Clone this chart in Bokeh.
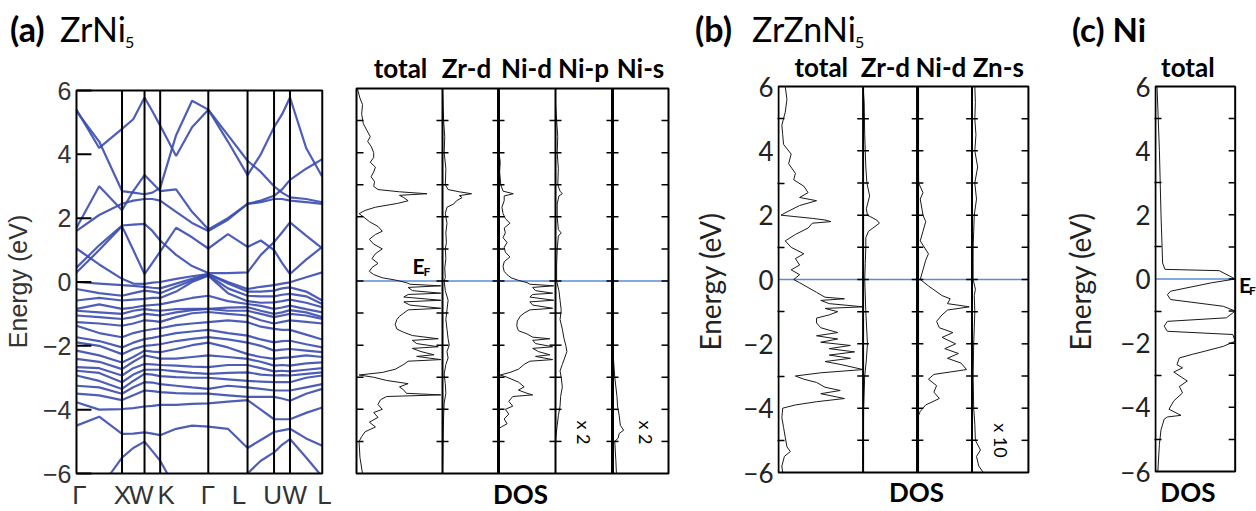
import math
from bokeh.plotting import figure
from bokeh.models import Range1d, FixedTicker, Label, Div
from bokeh.layouts import row, column
from bokeh.embed import file_html
from bokeh.resources import INLINE

# ---------------- (a) ZrNi5 band structure ----------------
k_points = [0.0, 0.457, 0.683, 0.84, 1.323, 1.717, 1.983, 2.143, 2.467]
k_names = ["Γ", "X", "W", "K", "Γ", "L", "U", "W", "L"]
k_grid = [0.0, 0.228, 0.457, 0.57, 0.683, 0.762, 0.84, 1.0, 1.16, 1.323,
          1.52, 1.717, 1.85, 1.983, 2.063, 2.143, 2.305, 2.467]
energy_ticks = [-6, -4, -2, 0, 2, 4, 6]

band_01 = [5.4, 4.2, 4.8, 5.1, 5.78, 5.35, 4.9, 3.95, 4.85, 5.4, 4.4, 3.35, 4.0, 4.85, 5.25, 5.78, 4.2, 3.3]
band_02 = [5.35, 4.4, 2.85, 2.8, 2.75, 2.8, 2.95, 4.6, 5.68, 5.4, 4.6, 3.8, 3.45, 3.0, 2.8, 2.65, 2.6, 2.5]
band_03 = [1.7, 3.0, 2.25, 2.85, 3.35, 3.1, 2.85, 2.9, 2.2, 1.65, 2.0, 2.45, 2.55, 2.7, 2.9, 3.2, 3.55, 3.85]
band_04 = [1.6, 2.1, 2.45, 2.55, 2.6, 2.6, 2.55, 2.2, 1.85, 1.6, 1.95, 2.45, 2.5, 2.6, 2.6, 2.55, 2.5, 2.45]
band_05 = [0.45, 1.15, 1.77, 1.8, 1.82, 1.6, 1.3, 0.85, 0.5, 0.28, 0.28, 0.3, 0.85, 1.25, 1.55, 1.87, 1.45, 1.05]
band_06 = [0.3, 1.0, 1.75, 1.0, 0.25, 0.6, 0.95, 1.7, 1.4, 1.05, 1.5, 1.1, 1.3, 1.0, 0.6, 0.25, 0.7, 1.1]
band_07 = [1.05, 0.55, 0.1, -0.05, -0.06, -0.02, 0.0, 0.1, 0.18, 0.25, 0.0, -0.22, -0.15, -0.1, -0.05, -0.01, 0.15, 0.3]
band_08 = [0.0, -0.05, -0.1, -0.12, -0.15, -0.18, -0.2, -0.05, 0.1, 0.25, -0.05, -0.3, -0.3, -0.27, -0.2, -0.17, -0.3, -0.58]
band_09 = [-0.22, -0.35, -0.43, -0.35, -0.27, -0.3, -0.35, -0.15, 0.05, 0.22, -0.2, -0.43, -0.45, -0.45, -0.4, -0.37, -0.45, -0.69]
band_10 = [-0.58, -0.5, -0.58, -0.55, -0.53, -0.5, -0.5, -0.3, 0.0, 0.2, -0.35, -0.6, -0.65, -0.64, -0.6, -0.55, -0.65, -0.79]
band_11 = [-0.84, -0.7, -0.84, -0.8, -0.74, -0.72, -0.7, -0.6, -0.5, -0.43, -0.6, -0.69, -0.75, -0.84, -0.8, -0.74, -0.85, -0.95]
band_12 = [-0.9, -0.95, -1.0, -0.9, -0.85, -0.88, -0.9, -0.85, -0.84, -0.84, -0.8, -0.79, -0.9, -1.0, -0.95, -0.88, -0.95, -1.1]
band_13 = [-1.05, -1.1, -1.16, -1.1, -1.0, -1.02, -1.05, -0.95, -0.88, -0.84, -0.9, -0.9, -1.0, -1.1, -1.05, -1.0, -1.05, -1.16]
band_14 = [-1.26, -1.3, -1.37, -1.3, -1.2, -1.22, -1.25, -1.1, -0.98, -0.94, -1.0, -1.05, -1.2, -1.3, -1.25, -1.2, -1.25, -1.3]
band_15 = [-1.37, -1.6, -1.73, -1.6, -1.52, -1.48, -1.45, -1.35, -1.3, -1.26, -1.2, -1.26, -1.4, -1.47, -1.5, -1.5, -1.65, -1.8]
band_16 = [-1.73, -1.85, -2.05, -1.9, -1.79, -1.75, -1.7, -1.6, -1.55, -1.5, -1.6, -1.68, -1.8, -1.89, -1.85, -1.84, -1.95, -2.05]
band_17 = [-1.89, -2.0, -2.26, -2.1, -2.0, -1.98, -1.95, -1.85, -1.78, -1.73, -1.8, -1.9, -2.0, -2.15, -2.12, -2.1, -2.15, -2.2]
band_18 = [-2.15, -2.3, -2.52, -2.35, -2.15, -2.18, -2.2, -2.1, -1.98, -1.9, -2.05, -2.26, -2.35, -2.41, -2.38, -2.36, -2.3, -2.35]
band_19 = [-2.41, -2.5, -2.73, -2.5, -2.3, -2.35, -2.4, -2.4, -2.35, -2.3, -2.35, -2.41, -2.5, -2.62, -2.6, -2.62, -2.55, -2.52]
band_20 = [-2.67, -2.7, -2.93, -2.7, -2.57, -2.58, -2.6, -2.62, -2.65, -2.67, -2.6, -2.6, -2.7, -2.8, -2.78, -2.8, -2.75, -2.7]
band_21 = [-2.78, -2.85, -3.14, -2.9, -2.75, -2.75, -2.75, -2.8, -2.85, -2.88, -2.85, -2.83, -2.9, -2.93, -2.92, -2.93, -2.88, -2.83]
band_22 = [-2.93, -3.1, -3.35, -3.1, -2.88, -2.9, -2.95, -2.98, -3.0, -3.0, -3.05, -3.1, -3.12, -3.14, -3.14, -3.14, -3.0, -2.93]
band_23 = [-3.25, -3.3, -3.5, -3.3, -3.14, -3.15, -3.2, -3.25, -3.3, -3.35, -3.25, -3.3, -3.35, -3.4, -3.4, -3.4, -3.3, -3.2]
band_24 = [-3.5, -3.55, -3.7, -3.55, -3.4, -3.42, -3.45, -3.48, -3.5, -3.5, -3.55, -3.6, -3.6, -3.6, -3.65, -3.72, -3.5, -3.35]
band_25 = [-3.77, -4.0, -3.98, -3.95, -3.9, -3.88, -3.85, -3.85, -3.82, -3.8, -3.75, -3.7, -4.0, -4.3, -4.3, -4.3, -4.1, -3.93]
band_26 = [-4.5, -4.22, -4.76, -4.75, -4.71, -4.75, -4.8, -4.6, -4.5, -4.53, -4.6, -5.2, -4.95, -4.7, -4.65, -4.6, -4.9, -5.13]
band_27 = [-7.5, -6.5, -5.5, -5.2, -5.0, -5.3, -5.6, -6.5, -7.5, -8.0, -7.0, -6.0, -5.6, -5.34, -5.1, -4.92, -5.5, -6.1]

# ---------------- (a) ZrNi5 DOS : (energy, DOS) pairs ----------------
a_total = [(6.0, 0.01), (5.7, 0.04), (5.5, 0.07), (5.2, 0.06), (4.9, 0.08), (4.7, 0.12), (4.5, 0.16),
           (4.35, 0.13), (4.2, 0.17), (4.0, 0.2), (3.85, 0.2), (3.7, 0.16), (3.55, 0.22), (3.4, 0.2),
           (3.25, 0.17), (3.1, 0.21), (2.95, 0.2), (2.85, 0.25), (2.78, 0.5), (2.72, 0.82), (2.67, 0.5),
           (2.6, 0.55), (2.5, 0.6), (2.42, 0.48), (2.3, 0.22), (2.2, 0.1), (2.1, 0.03), (2.0, 0.08),
           (1.85, 0.15), (1.7, 0.25), (1.55, 0.3), (1.45, 0.22), (1.3, 0.15), (1.15, 0.2), (1.0, 0.3),
           (0.85, 0.22), (0.7, 0.18), (0.55, 0.25), (0.42, 0.18), (0.3, 0.15), (0.2, 0.2), (0.1, 0.3),
           (0.03, 0.45), (-0.05, 0.58), (-0.1, 0.62), (-0.15, 0.98), (-0.2, 0.6), (-0.3, 0.65),
           (-0.38, 0.98), (-0.42, 0.6), (-0.5, 0.55), (-0.6, 0.98), (-0.65, 0.55), (-0.75, 0.62),
           (-0.85, 0.98), (-0.9, 0.6), (-1.0, 0.55), (-1.1, 0.5), (-1.2, 0.47), (-1.35, 0.45),
           (-1.5, 0.47), (-1.6, 0.55), (-1.7, 0.65), (-1.8, 0.95), (-1.85, 0.65), (-1.95, 0.7),
           (-2.05, 0.95), (-2.1, 0.65), (-2.2, 0.75), (-2.3, 0.9), (-2.35, 0.7), (-2.45, 0.98),
           (-2.5, 0.6), (-2.6, 0.55), (-2.75, 0.45), (-2.85, 0.3), (-2.93, 0.03), (-3.0, 0.2),
           (-3.1, 0.35), (-3.2, 0.6), (-3.3, 0.5), (-3.4, 0.55), (-3.5, 0.58), (-3.55, 0.98),
           (-3.6, 0.35), (-3.7, 0.28), (-3.85, 0.25), (-4.0, 0.3), (-4.1, 0.2), (-4.25, 0.25),
           (-4.4, 0.15), (-4.55, 0.22), (-4.7, 0.1), (-4.85, 0.06), (-5.0, 0.03), (-5.5, 0.04), (-6.0, 0.07)]
a_zr_d = [(6.0, 0.0), (5.0, 0.02), (4.5, 0.04), (4.0, 0.03), (3.5, 0.06), (3.0, 0.05), (2.85, 0.1),
          (2.78, 0.3), (2.72, 0.52), (2.66, 0.3), (2.6, 0.35), (2.5, 0.25), (2.4, 0.2), (2.3, 0.08),
          (2.1, 0.05), (1.8, 0.08), (1.5, 0.06), (1.2, 0.07), (1.0, 0.05), (0.7, 0.06), (0.4, 0.04),
          (0.1, 0.05), (0.0, 0.03), (-0.3, 0.05), (-0.6, 0.1), (-0.9, 0.08), (-1.2, 0.06), (-1.5, 0.08),
          (-1.8, 0.1), (-2.0, 0.12), (-2.2, 0.08), (-2.4, 0.1), (-2.6, 0.06), (-2.9, 0.03), (-3.2, 0.05),
          (-3.5, 0.06), (-3.8, 0.03), (-4.2, 0.02), (-5.0, 0.01), (-6.0, 0.0)]
a_ni_d = [(6.0, 0.0), (4.6, 0.0), (4.3, 0.02), (4.0, 0.01), (3.7, 0.03), (3.4, 0.02), (3.0, 0.04),
          (2.8, 0.08), (2.72, 0.26), (2.65, 0.1), (2.5, 0.1), (2.3, 0.06), (2.1, 0.08), (1.95, 0.12),
          (1.8, 0.2), (1.65, 0.1), (1.5, 0.12), (1.35, 0.08), (1.2, 0.15), (1.05, 0.1), (0.9, 0.12),
          (0.75, 0.2), (0.6, 0.1), (0.45, 0.08), (0.3, 0.1), (0.2, 0.15), (0.1, 0.22), (0.02, 0.35),
          (-0.05, 0.5), (-0.1, 0.55), (-0.15, 0.97), (-0.2, 0.6), (-0.3, 0.65), (-0.38, 0.95),
          (-0.42, 0.6), (-0.5, 0.55), (-0.6, 0.97), (-0.65, 0.55), (-0.75, 0.6), (-0.85, 0.95),
          (-0.9, 0.55), (-1.0, 0.45), (-1.1, 0.38), (-1.25, 0.33), (-1.4, 0.32), (-1.55, 0.35),
          (-1.65, 0.5), (-1.75, 0.6), (-1.8, 0.9), (-1.85, 0.6), (-1.95, 0.65), (-2.05, 0.95),
          (-2.1, 0.6), (-2.2, 0.7), (-2.3, 0.9), (-2.35, 0.65), (-2.45, 0.95), (-2.5, 0.55),
          (-2.6, 0.45), (-2.75, 0.35), (-2.85, 0.2), (-2.93, 0.03), (-3.0, 0.15), (-3.15, 0.35),
          (-3.3, 0.45), (-3.4, 0.35), (-3.5, 0.5), (-3.55, 0.6), (-3.6, 0.25), (-3.75, 0.18),
          (-3.9, 0.25), (-4.0, 0.12), (-4.15, 0.18), (-4.3, 0.1), (-4.45, 0.15), (-4.55, 0.05),
          (-4.6, 0.0), (-6.0, 0.0)]
a_ni_p = [(5.5, 0.0), (5.0, 0.02), (4.5, 0.04), (4.0, 0.03), (3.5, 0.05), (3.0, 0.04), (2.8, 0.08),
          (2.72, 0.12), (2.65, 0.06), (2.4, 0.03), (2.0, 0.03), (1.6, 0.05), (1.5, 0.1), (1.4, 0.05),
          (1.0, 0.03), (0.5, 0.02), (0.0, 0.02), (-0.3, 0.06), (-0.6, 0.08), (-0.9, 0.1), (-1.2, 0.08),
          (-1.5, 0.12), (-1.8, 0.15), (-2.0, 0.18), (-2.2, 0.2), (-2.4, 0.16), (-2.6, 0.12),
          (-2.8, 0.08), (-3.0, 0.1), (-3.3, 0.12), (-3.6, 0.09), (-3.9, 0.08), (-4.2, 0.05),
          (-4.5, 0.03), (-4.8, 0.01), (-5.0, 0.0)]
a_ni_s = [(-1.5, 0.0), (-2.0, 0.01), (-2.5, 0.02), (-3.0, 0.04), (-3.3, 0.06), (-3.6, 0.08),
          (-3.9, 0.09), (-4.2, 0.12), (-4.5, 0.14), (-4.65, 0.2), (-4.75, 0.12), (-4.9, 0.1),
          (-5.0, 0.04), (-5.3, 0.05), (-5.6, 0.06), (-6.0, 0.07)]

# ---------------- (b) ZrZnNi5 DOS ----------------
b_total = [(6.0, 0.08), (5.6, 0.1), (5.2, 0.08), (4.8, 0.04), (4.5, 0.05), (4.2, 0.06), (3.9, 0.15),
           (3.6, 0.12), (3.3, 0.2), (3.1, 0.18), (2.9, 0.3), (2.7, 0.35), (2.55, 0.25), (2.45, 0.45),
           (2.3, 0.25), (2.1, 0.1), (2.0, 0.03), (1.9, 0.4), (1.85, 0.55), (1.8, 0.62), (1.75, 0.4),
           (1.6, 0.35), (1.4, 0.2), (1.2, 0.08), (1.0, 0.15), (0.8, 0.3), (0.65, 0.2), (0.45, 0.25),
           (0.3, 0.15), (0.15, 0.25), (0.0, 0.18), (-0.1, 0.25), (-0.25, 0.35), (-0.4, 0.45),
           (-0.55, 0.55), (-0.6, 0.78), (-0.65, 0.5), (-0.75, 0.6), (-0.85, 1.0), (-0.9, 0.55),
           (-1.0, 0.7), (-1.1, 0.6), (-1.2, 0.45), (-1.35, 0.45), (-1.5, 0.5), (-1.65, 0.7),
           (-1.75, 0.45), (-1.85, 0.7), (-1.95, 0.5), (-2.05, 0.85), (-2.15, 0.6), (-2.25, 0.9),
           (-2.35, 0.6), (-2.45, 0.85), (-2.55, 0.55), (-2.65, 0.75), (-2.8, 1.0), (-2.9, 0.5),
           (-3.0, 0.2), (-3.1, 0.3), (-3.2, 0.45), (-3.35, 0.55), (-3.45, 0.73), (-3.55, 0.5),
           (-3.7, 0.78), (-3.8, 0.45), (-3.9, 0.2), (-4.0, 0.05), (-4.3, 0.04), (-4.6, 0.06),
           (-4.9, 0.08), (-5.2, 0.1), (-5.35, 0.14), (-5.5, 0.07), (-5.8, 0.04), (-6.0, 0.05)]
b_zr_d = [(6.0, 0.0), (5.5, 0.02), (4.5, 0.03), (3.5, 0.05), (3.0, 0.07), (2.6, 0.12), (2.2, 0.06),
          (2.0, 0.08), (1.85, 0.25), (1.75, 0.3), (1.6, 0.18), (1.5, 0.1), (1.3, 0.05), (1.0, 0.05),
          (0.5, 0.04), (0.0, 0.03), (-1.0, 0.05), (-2.0, 0.08), (-2.5, 0.06), (-3.0, 0.03),
          (-4.0, 0.01), (-6.0, 0.0)]
b_ni_d = [(6.0, 0.0), (3.0, 0.02), (2.7, 0.1), (2.5, 0.05), (2.0, 0.1), (1.8, 0.15), (1.5, 0.1),
          (1.2, 0.05), (0.8, 0.2), (0.6, 0.15), (0.3, 0.1), (0.0, 0.05), (-0.2, 0.2), (-0.5, 0.45),
          (-0.6, 0.6), (-0.75, 0.55), (-0.85, 0.95), (-0.95, 0.55), (-1.1, 0.45), (-1.3, 0.35),
          (-1.5, 0.4), (-1.65, 0.65), (-1.8, 0.45), (-2.0, 0.7), (-2.15, 0.5), (-2.3, 0.75),
          (-2.45, 0.55), (-2.6, 0.8), (-2.8, 0.9), (-2.95, 0.3), (-3.1, 0.2), (-3.3, 0.35),
          (-3.5, 0.3), (-3.7, 0.4), (-3.9, 0.15), (-4.1, 0.05), (-4.3, 0.0), (-6.0, 0.0)]
b_zn_s = [(6.0, 0.05), (5.5, 0.06), (5.0, 0.05), (4.5, 0.07), (4.0, 0.05), (3.5, 0.1), (3.0, 0.05),
          (2.5, 0.08), (2.0, 0.04), (1.5, 0.03), (1.0, 0.02), (0.5, 0.02), (0.0, 0.02), (-0.3, 0.06),
          (-0.5, 0.04), (-1.0, 0.05), (-1.5, 0.04), (-2.0, 0.03), (-3.0, 0.02), (-4.0, 0.03),
          (-4.5, 0.05), (-5.0, 0.06), (-5.3, 0.15), (-5.5, 0.08), (-5.8, 0.12), (-6.0, 0.2)]

# ---------------- (c) Ni DOS ----------------
c_total = [(6.0, 0.02), (4.0, 0.05), (2.0, 0.07), (0.5, 0.09), (0.3, 0.12), (0.26, 0.8),
           (0.0, 1.0), (-0.12, 0.7), (-0.38, 0.19), (-0.49, 0.15), (-0.64, 0.19), (-0.85, 0.85),
           (-1.0, 1.0), (-1.21, 0.89), (-1.32, 0.15), (-1.47, 0.11), (-1.63, 0.15), (-1.73, 0.97),
           (-1.94, 1.0), (-2.1, 0.85), (-2.25, 0.62), (-2.35, 0.46), (-2.46, 0.3), (-2.67, 0.27),
           (-2.77, 0.34), (-2.9, 0.23), (-3.18, 0.4), (-3.35, 0.3), (-3.55, 0.34), (-3.8, 0.23),
           (-4.06, 0.17), (-4.25, 0.32), (-4.3, 0.15), (-4.37, 0.11), (-4.7, 0.07), (-5.15, 0.05),
           (-6.0, 0.03)]

BLUE = "#3b4cb0"
EF_BLUE = "#5b8bd8"
TOP = 51          # height of the title strip
HB = 511 - TOP    # height of the panel row
dos_ticks = [-5, -4, -3, -2, -1, 0, 1, 2, 3, 4, 5]
# distance from the middle of a text line to its baseline, in em
MID_TO_BASE = {"Lato": 0.387, "Liberation Sans": 0.347}


def yrange_for(box_top, box_bottom):
    # box_top / box_bottom are pixel rows (page coordinates) of E = 6 and E = -6
    ppe = (box_bottom - box_top) / 12.0
    return Range1d(-6 - (511 - box_bottom) / ppe, 6 + (box_top - TOP) / ppe)


def ymap(box_top, box_bottom):
    ppe = (box_bottom - box_top) / 12.0
    return lambda py: 6 - (py - box_top) / ppe


def label(p, fy, x, py, text, size, bold=False, align="left", font="Lato",
          angle=0.0, color="black", on_baseline=True):
    # py: page row of the text baseline (or of its middle for on_baseline=False)
    if on_baseline:
        py = py - MID_TO_BASE[font] * size
    p.add_layout(Label(x=x, y=fy(py), text=text, text_font=font,
                       text_font_size=f"{size}px",
                       text_font_style="bold" if bold else "normal",
                       text_align=align, text_baseline="middle", angle=angle,
                       text_color=color))


def base_fig(width, xr, yr, bl=0, yloc=None):
    p = figure(width=width, height=HB, x_range=xr, y_range=yr,
               min_border_left=bl, min_border_right=0, min_border_top=0, min_border_bottom=0,
               toolbar_location=None, output_backend="svg",
               x_axis_location=None, y_axis_location=yloc)
    p.xgrid.visible = False
    p.ygrid.visible = False
    p.outline_line_color = None
    p.background_fill_color = "white"
    p.border_fill_color = "white"
    return p


def box(p, width):
    p.quad(left=[0], right=[width], bottom=[-6], top=[6], fill_color=None,
           line_color="black", line_width=2)


def dos_curve(p, pairs, left, width):
    es = [e for e, v in pairs]
    xs = [left + v * width for e, v in pairs]
    p.line(xs, es, line_color="#1a1a1a", line_width=1)


def ef_line(p, width):
    p.line([0, width], [0, 0], line_color=EF_BLUE, line_width=1.5)


def cross_ticks(p, edges, outer_left=True, outer_right=True, half=6, inner=7):
    x0s, x1s, ys = [], [], []
    last = len(edges) - 1
    for i, e in enumerate(edges):
        for t in dos_ticks:
            if i == 0:
                if not outer_left:
                    continue
                a, b = e, e + inner
            elif i == last:
                if not outer_right:
                    continue
                a, b = e - inner, e
            else:
                a, b = e - half, e + half
            x0s.append(a); x1s.append(b); ys.append(t)
    p.segment(x0=x0s, y0=ys, x1=x1s, y1=ys, line_color="black", line_width=1.5)


def style_dos_yaxis(ax, standoff):
    ax.ticker = FixedTicker(ticks=energy_ticks, minor_ticks=[-5, -3, -1, 1, 3, 5])
    ax.major_tick_in = 0
    ax.major_tick_out = 0
    ax.minor_tick_in = 7
    ax.minor_tick_out = 0
    ax.minor_tick_line_color = "black"
    ax.minor_tick_line_width = 1.5
    ax.axis_line_color = None
    ax.major_label_standoff = 4
    ax.major_label_text_font = "Lato"
    ax.major_label_text_font_size = "26px"
    ax.major_label_text_color = "#222222"
    ax.axis_label = "Energy (eV)"
    ax.axis_label_standoff = standoff
    ax.axis_label_text_font = "Lato"
    ax.axis_label_text_font_size = "28px"
    ax.axis_label_text_font_style = "normal"
    ax.axis_label_text_color = "#222222"


# ===== title strip (HTML text) =====
def span(left, baseline, size, text, bold=False):
    top = baseline - 0.887 * size      # Lato: baseline sits 0.887 em below the line top
    w = "700" if bold else "400"
    return (f'<span style="position:absolute;left:{left}px;top:{top:.1f}px;font-size:{size}px;'
            f'line-height:{size}px;font-weight:{w};white-space:nowrap;">{text}</span>')


head_html = (f'<div style="position:relative;width:1256px;height:{TOP}px;font-family:Lato;color:#000;">'
             + span(10, 42, 34, "(a)", True) + span(60, 42, 34, "ZrNi") + span(125, 48, 16, "5")
             + span(695, 42, 34, "(b)", True) + span(752, 42, 34, "ZrZnNi") + span(855, 48, 16, "5")
             + span(1072, 42, 33, "(c) Ni", True)
             + '</div>')
head = Div(text=head_html, width=1256, height=TOP, margin=0)

# ===== figure 1 : band structure (a) ===== canvas x 0..340, frame x 70..340, box x 75..322
# x data unit: 1 = 100 px, box left (page x 75) at 0
p1 = base_fig(340, Range1d(-0.05, 2.65), yrange_for(90, 473), bl=70, yloc="left")
fy1 = ymap(90, 473)
bands = [band_01, band_02, band_03, band_04, band_05, band_06, band_07, band_08, band_09,
         band_10, band_11, band_12, band_13, band_14, band_15, band_16, band_17, band_18,
         band_19, band_20, band_21, band_22, band_23, band_24, band_25, band_26, band_27]
p1.multi_line(xs=[k_grid] * len(bands), ys=bands, line_color=BLUE, line_width=2.2, line_alpha=0.9)
p1.quad(left=[-0.05], right=[2.65], bottom=[-9], top=[-6], fill_color="white", line_color=None)
inner_k = k_points[1:-1]
p1.segment(x0=inner_k, y0=[-6] * len(inner_k), x1=inner_k, y1=[6] * len(inner_k),
           line_color="black", line_width=2)
p1.quad(left=[0], right=[k_points[-1]], bottom=[-6], top=[6], fill_color=None,
        line_color="black", line_width=2)
# inward major ticks on the left edge of the box (15 px long)
p1.segment(x0=[0] * len(energy_ticks), y0=energy_ticks, x1=[0.15] * len(energy_ticks),
           y1=energy_ticks, line_color="black", line_width=2)
ya = p1.yaxis[0]
ya.ticker = FixedTicker(ticks=energy_ticks, minor_ticks=[])
ya.major_label_overrides = {-6: "−6", -4: "−4", -2: "−2", 0: "0", 2: "2", 4: "4", 6: "6"}
ya.major_tick_in = 0
ya.major_tick_out = 0
ya.axis_line_color = None
ya.major_label_standoff = 0
ya.major_label_text_font = "Liberation Sans"
ya.major_label_text_font_size = "25px"
ya.major_label_text_color = "#333333"
ya.axis_label = "Energy (eV)"
ya.axis_label_standoff = 8
ya.axis_label_text_font = "Liberation Sans"
ya.axis_label_text_font_size = "25px"
ya.axis_label_text_font_style = "normal"
ya.axis_label_text_color = "#333333"
# k-point names under the box (label centres in page pixels)
k_label_px = [78, 121, 140, 165, 207, 238, 272, 294, 324]
for name, px in zip(k_names, k_label_px):
    label(p1, fy1, (px - 75) / 100.0, 504, name, 26, align="center", font="Liberation Sans",
          color="#333333")

# ===== figure 2 : DOS (a) ===== canvas x 340..690, box x 356..668, y 88..473
W2 = 312
p2 = base_fig(350, Range1d(-16, 334), yrange_for(88, 473))
fy2 = ymap(88, 473)
edges_a = [0, 86, 142, 199, 256, W2]
ef_line(p2, W2)
for (curve, i) in [(a_total, 0), (a_zr_d, 1), (a_ni_d, 2), (a_ni_p, 3), (a_ni_s, 4)]:
    dos_curve(p2, curve, edges_a[i], edges_a[i + 1] - edges_a[i])
div_a = edges_a[1:-1]
p2.segment(x0=div_a, y0=[-6] * 4, x1=div_a, y1=[6] * 4, line_color="black",
           line_width=[2, 3, 2, 3])
box(p2, W2)
cross_ticks(p2, edges_a)
for txt, cx in [("total", 400), ("Zr-d", 466), ("Ni-d", 526), ("Ni-p", 583), ("Ni-s", 640)]:
    label(p2, fy2, cx - 356, 78, txt, 26, bold=True, align="center")
label(p2, fy2, 520 - 356, 504, "DOS", 26, bold=True, align="center")
label(p2, fy2, 412 - 356, 273, "E", 21, bold=True)
label(p2, fy2, 423 - 356, 276, "F", 12, bold=True)
label(p2, fy2, 583 - 356, 432, "x 2", 18, align="center", angle=-math.pi / 2, on_baseline=False)
label(p2, fy2, 645 - 356, 432, "x 2", 18, align="center", angle=-math.pi / 2, on_baseline=False)

# ===== figure 3 : DOS (b) ===== canvas x 690..1060, box x 770..1027, y 86..472
W3 = 257
p3 = base_fig(370, Range1d(-1, 290), yrange_for(86, 472), bl=79, yloc="left")
fy3 = ymap(86, 472)
style_dos_yaxis(p3.yaxis[0], 13)
edges_b = [0, 87, 143, 199, W3]
ef_line(p3, W3)
for (curve, i) in [(b_total, 0), (b_zr_d, 1), (b_ni_d, 2), (b_zn_s, 3)]:
    dos_curve(p3, curve, edges_b[i], edges_b[i + 1] - edges_b[i])
div_b = edges_b[1:-1]
p3.segment(x0=div_b, y0=[-6] * 3, x1=div_b, y1=[6] * 3, line_color="black", line_width=[2, 3, 2])
box(p3, W3)
cross_ticks(p3, edges_b, outer_left=False)
for txt, cx in [("total", 814), ("Zr-d", 880), ("Ni-d", 937), ("Zn-s", 996)]:
    label(p3, fy3, cx - 770, 77, txt, 26, bold=True, align="center")
label(p3, fy3, 912 - 770, 502, "DOS", 26, bold=True, align="center")
label(p3, fy3, 999 - 770, 440, "x 10", 18, align="center", angle=-math.pi / 2, on_baseline=False)

# ===== figure 4 : DOS (c) ===== canvas x 1060..1256, box x 1147..1233, y 86..471
W4 = 86
p4 = base_fig(196, Range1d(-1, 109), yrange_for(86, 471), bl=86, yloc="left")
fy4 = ymap(86, 471)
style_dos_yaxis(p4.yaxis[0], 20)
ef_line(p4, W4)
dos_curve(p4, c_total, 0, W4)
box(p4, W4)
cross_ticks(p4, [0, W4], outer_left=False)
label(p4, fy4, 1182 - 1147, 77, "total", 26, bold=True, align="center")
label(p4, fy4, 1182 - 1147, 502, "DOS", 26, bold=True, align="center")
label(p4, fy4, 1237 - 1147, 292, "E", 21, bold=True)
label(p4, fy4, 1248 - 1147, 295, "F", 12, bold=True)

layout = column(head, row(p1, p2, p3, p4, spacing=0), spacing=0)
with open("out.html", "w") as f:
    f.write(file_html(layout, INLINE))
